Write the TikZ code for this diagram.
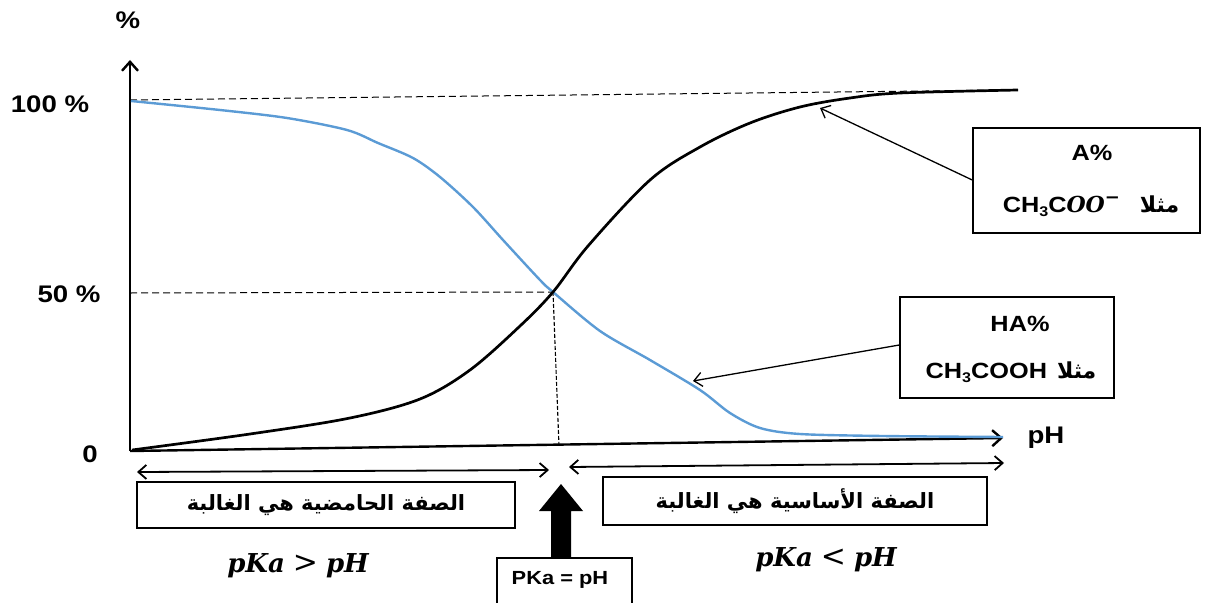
\documentclass[tikz,border=0pt]{standalone}
\usepackage{fontspec}
\setmainfont{Liberation Sans}[FakeStretch=1.15]
\newfontfamily\arabicfont[Script=Arabic]{DejaVu Sans}
\newfontfamily\mathserif{DejaVu Serif}
\TeXXeTstate=1
\usetikzlibrary{arrows.meta}
\definecolor{curveblue}{RGB}{91,155,213}
\tikzset{
  axis/.style={line width=2.4pt,-{Straight Barb[length=9pt,width=16pt]}},
  dbl/.style={line width=1.8pt,{Straight Barb[length=8pt,width=14pt]}-{Straight Barb[length=8pt,width=14pt]}},
  guide/.style={line width=1pt,dash pattern=on 7pt off 4pt},
  lbl/.style={font=\bfseries\fontsize{24}{26}\selectfont},
  boxtext/.style={font=\bfseries\fontsize{22}{24}\selectfont},
  infobox/.style={draw,line width=1.5pt,inner sep=0pt},
  pointer/.style={line width=1.3pt,-{Straight Barb[length=8pt,width=14pt]}},
  arab/.style={font=\arabicfont\bfseries\fontsize{21}{23}\selectfont},
  mathlbl/.style={font=\mathserif\bfseries\itshape\fontsize{26}{28}\selectfont}
}
\newcommand{\subthree}{\raisebox{-0.3ex}{\fontsize{14}{15}\selectfont 3}}
\newcommand{\relsym}[1]{\hspace{8pt}{\upshape\mdseries\fontsize{30}{30}\selectfont #1}\hspace{8pt}}
\begin{document}
\begin{tikzpicture}[x=1pt,y=-1pt]
\useasboundingbox (0,0) rectangle (1209,602);
% axes
\coordinate (O) at (130,451);
\coordinate (ytop) at (130,60);
\coordinate (xend) at (1003,438);
\draw[axis] (O) -- (ytop);
\draw[axis] (O) -- (xend);
\node[lbl] (pct) at (128,20) {\%};
\node[lbl] (p100) at (50,104) {100 \%};
\node[lbl] (p50) at (69,294) {50 \%};
\node[lbl] (p0) at (90,454) {0};
\node[lbl] (pH) at (1046,438) {pH};
% guides
\coordinate (g100a) at (130,100);
\coordinate (g100b) at (1014,90);
\coordinate (g50) at (130,293);
\coordinate (X) at (553,292);
\coordinate (Xfoot) at (559,446);
\draw[guide] (g100a) -- (g100b);
\draw[guide] (g50) -- (X);
\draw[line width=1.1pt,dash pattern=on 4pt off 2pt] (X) -- (Xfoot);
% curves
\draw[curveblue,line width=2.4pt] plot[smooth,tension=0.5] coordinates {
 (131,101) (220,110) (287,118) (347,130) (378,143) (413,158) (440,177) (473,207)
 (503,240) (540,280) (553,292) (600,331) (650,360) (700,390) (730,413) (760,428)
 (800,434) (883,436) (1003,437)};
\draw[black,line width=2.7pt] plot[smooth,tension=0.55] coordinates {
 (132,450) (250,434) (350,418) (420,399) (470,370) (520,326) (553,292)
 (588,246) (650,180) (700,147) (750,123) (800,107) (850,98) (900,93) (1018,90)};
\coordinate (onA) at (820,108);
\coordinate (onHA) at (693,381);
% info boxes
\node[infobox,minimum width=227pt,minimum height=105pt] (boxA) at (1086.5,180.5) {};
\node[boxtext] (tA) at (1092,153) {A\%};
\node[boxtext] (tA2) at (1091,206) {CH\subthree C{\mathserif\bfseries\itshape OO}\raisebox{0.75ex}{\fontsize{18}{18}\selectfont\mathserif\bfseries −}\hspace{20pt}{\arabicfont\bfseries\beginR مثلا\endR}};
\draw[pointer] (boxA.west |- 0,180) -- (onA);
\node[infobox,minimum width=214pt,minimum height=101pt] (boxHA) at (1007,347.5) {};
\node[boxtext] (tHA) at (1020,324) {HA\%};
\node[boxtext] (tHA2) at (1011,372) {CH\subthree COOH\hspace{10pt}{\arabicfont\bfseries\beginR مثلا\endR}};
\draw[pointer] (boxHA.west |- 0,345) -- (onHA);
% range arrows
\coordinate (la) at (137,472);
\coordinate (lb) at (549,470);
\coordinate (ra) at (569,467);
\coordinate (rb) at (1004,463);
\draw[dbl] (la) -- (lb);
\draw[dbl] (ra) -- (rb);
\node[infobox,minimum width=378pt,minimum height=46pt,arab] (acid) at (326,505) {\beginR الصفة الحامضية  هي الغالبة\endR};
\node[infobox,minimum width=384pt,minimum height=48pt,arab] (base) at (795,501) {\beginR الصفة الأساسية هي الغالبة\endR};
\node[mathlbl] (ineq1) at (298,566) {pKa\relsym{>}pH};
\node[mathlbl] (ineq2) at (826,560) {pKa\relsym{<}pH};
% pKa box and thick arrow
\node[draw,line width=1.5pt,minimum width=135pt,minimum height=48pt,inner sep=0pt] (pka) at (564.5,582) {};
\node[font=\bfseries\fontsize{19}{21}\selectfont] (pkat) at (560,580) {PKa = pH};
\fill[black] (551,558) -- (551,511) -- (539,511) -- (561,484) -- (583,511) -- (571,511) -- (571,558) -- cycle;
\end{tikzpicture}
\end{document}
